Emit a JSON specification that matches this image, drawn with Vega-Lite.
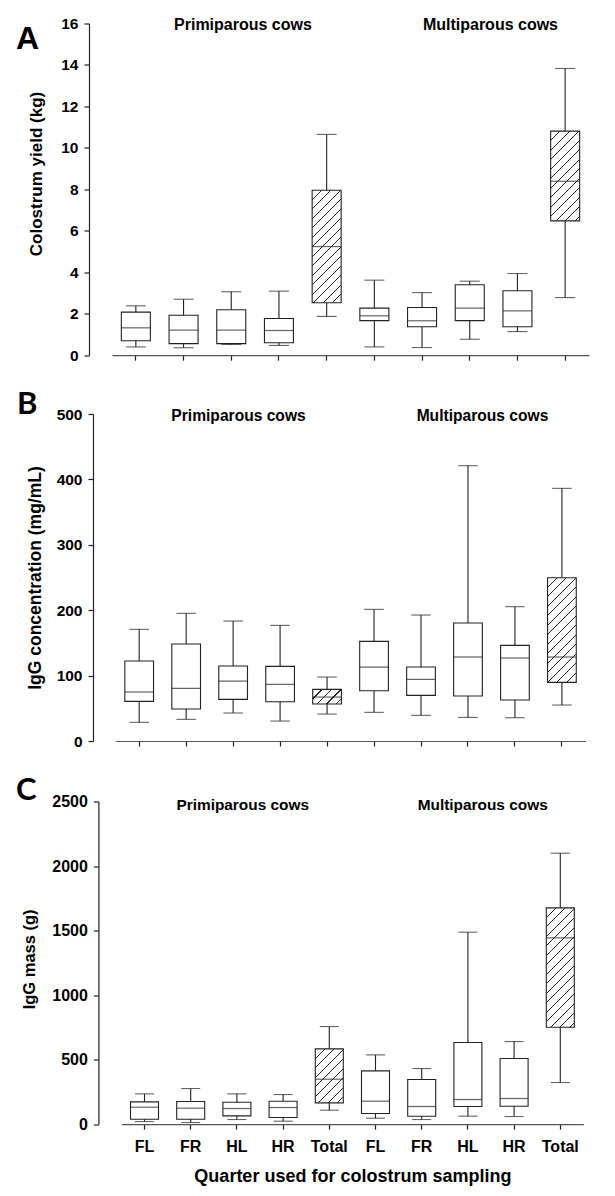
{
  "$schema": "https://vega.github.io/schema/vega-lite/v6.json",
  "padding": {"left": 16, "top": 16.5, "right": 5, "bottom": 5},
  "spacing": 24.5,
  "config": {
    "view": {"stroke": null},
    "axis": {"labelFont": "Liberation Sans", "labelFontWeight": "bold", "labelColor": "black", "titleFont": "Liberation Sans", "titleFontWeight": "bold", "titleColor": "black", "domainColor": "#222", "tickColor": "#222", "grid": false, "tickSize": 5, "domainWidth": 1.2, "tickWidth": 1.2}
  },
  "datasets": {
    "A": [
      {"cat": "P FL", "lo": 0.40, "q1": 0.70, "med": 1.32, "q3": 2.08, "hi": 2.38},
      {"cat": "P FR", "lo": 0.36, "q1": 0.56, "med": 1.21, "q3": 1.93, "hi": 2.70},
      {"cat": "P HL", "lo": 0.52, "q1": 0.56, "med": 1.21, "q3": 2.19, "hi": 3.06},
      {"cat": "P HR", "lo": 0.47, "q1": 0.60, "med": 1.19, "q3": 1.77, "hi": 3.09},
      {"cat": "P Total", "lo": 1.87, "q1": 2.53, "med": 5.24, "q3": 7.96, "hi": 10.65},
      {"cat": "M FL", "lo": 0.40, "q1": 1.67, "med": 1.90, "q3": 2.27, "hi": 3.62},
      {"cat": "M FR", "lo": 0.37, "q1": 1.37, "med": 1.66, "q3": 2.30, "hi": 3.02},
      {"cat": "M HL", "lo": 0.77, "q1": 1.67, "med": 2.27, "q3": 3.40, "hi": 3.57},
      {"cat": "M HR", "lo": 1.14, "q1": 1.37, "med": 2.14, "q3": 3.11, "hi": 3.94},
      {"cat": "M Total", "lo": 2.78, "q1": 6.48, "med": 8.39, "q3": 10.81, "hi": 13.83}
    ],
    "B": [
      {"cat": "P FL", "lo": 28.5, "q1": 60.6, "med": 74.9, "q3": 122.3, "hi": 170.7},
      {"cat": "P FR", "lo": 33.1, "q1": 48.9, "med": 80.5, "q3": 148.3, "hi": 195.2},
      {"cat": "P HL", "lo": 42.8, "q1": 63.7, "med": 91.7, "q3": 114.6, "hi": 183.4},
      {"cat": "P HR", "lo": 30.5, "q1": 60.1, "med": 86.6, "q3": 114.1, "hi": 176.8},
      {"cat": "P Total", "lo": 41.2, "q1": 56.5, "med": 67.2, "q3": 78.9, "hi": 97.8},
      {"cat": "M FL", "lo": 43.8, "q1": 76.9, "med": 113.1, "q3": 152.3, "hi": 201.3},
      {"cat": "M FR", "lo": 39.2, "q1": 69.8, "med": 94.2, "q3": 113.1, "hi": 192.6},
      {"cat": "M HL", "lo": 36.1, "q1": 68.8, "med": 128.4, "q3": 180.4, "hi": 421.0},
      {"cat": "M HR", "lo": 35.6, "q1": 62.6, "med": 126.9, "q3": 146.2, "hi": 205.4},
      {"cat": "M Total", "lo": 55.0, "q1": 89.6, "med": 128.4, "q3": 249.7, "hi": 386.3}
    ],
    "C": [
      {"cat": "P FL", "lo": 20.7, "q1": 38.7, "med": 131.7, "q3": 173.0, "hi": 235.0},
      {"cat": "P FR", "lo": 12.9, "q1": 38.7, "med": 124.0, "q3": 175.6, "hi": 276.3},
      {"cat": "P HL", "lo": 36.2, "q1": 64.6, "med": 121.4, "q3": 170.4, "hi": 235.0},
      {"cat": "P HR", "lo": 23.2, "q1": 51.6, "med": 129.1, "q3": 178.2, "hi": 229.8},
      {"cat": "P Total", "lo": 108.5, "q1": 165.3, "med": 348.6, "q3": 583.6, "hi": 756.6},
      {"cat": "M FL", "lo": 46.5, "q1": 82.6, "med": 178.2, "q3": 413.2, "hi": 537.1},
      {"cat": "M FR", "lo": 36.2, "q1": 62.0, "med": 136.9, "q3": 346.0, "hi": 431.3},
      {"cat": "M HL", "lo": 62.0, "q1": 136.9, "med": 191.1, "q3": 632.7, "hi": 1487.4},
      {"cat": "M HR", "lo": 59.4, "q1": 139.4, "med": 198.9, "q3": 508.7, "hi": 640.4},
      {"cat": "M Total", "lo": 322.8, "q1": 751.5, "med": 1443.5, "q3": 1676.0, "hi": 2099.5}
    ],
    "labels": [
      {"g": "P", "cat": "P HL", "label": "Primiparous cows"},
      {"g": "M", "cat": "M HL", "label": "Multiparous cows"}
    ]
  },
  "vconcat": [
    {
      "width": 477, "height": 331.7,
      "title": {"text": "A", "anchor": "start", "frame": "group", "dx": -96, "dy": 43, "fontSize": 32, "font": "Liberation Sans", "fontWeight": "bold", "color": "black"},
      "data": {"name": "A"},
      "layer": [
        {"mark": {"type": "rule", "color": "#222", "strokeWidth": 1.1},
         "encoding": {
           "x": {"field": "cat", "type": "nominal", "scale": {"domain": ["P FL","P FR","P HL","P HR","P Total","M FL","M FR","M HL","M HR","M Total"], "paddingInner": 0, "paddingOuter": 0}, "axis": {"title": null, "labels": false, "domainColor": "#555"}},
           "y": {"field": "lo", "type": "quantitative", "title": "Colostrum yield (kg)", "scale": {"domain": [0, 16], "nice": false}, "axis": {"values": [0,2,4,6,8,10,12,14,16], "format": "d", "offset": 23, "labelFontSize": 15.5, "labelPadding": 6, "titleFontSize": 17, "titleX": -52.8, "titleY": 150, "titleBaseline": "middle", "titleAlign": "center", "titleAngle": -90}},
           "y2": {"field": "hi"}}},
        {"mark": {"type": "tick", "size": 20, "thickness": 1.1, "color": "#222"},
         "encoding": {"x": {"field": "cat", "type": "nominal"}, "y": {"field": "lo", "type": "quantitative", "title": "Colostrum yield (kg)"}}},
        {"mark": {"type": "tick", "size": 20, "thickness": 1.1, "color": "#222"},
         "encoding": {"x": {"field": "cat", "type": "nominal"}, "y": {"field": "hi", "type": "quantitative", "title": "Colostrum yield (kg)"}}},
        {"mark": {"type": "bar", "size": 29, "stroke": "#222", "strokeWidth": 1.1},
         "encoding": {"x": {"field": "cat", "type": "nominal"}, "y": {"field": "q1", "type": "quantitative", "title": "Colostrum yield (kg)"}, "y2": {"field": "q3"},
           "fill": {"condition": [
             {"test": "datum.cat === 'P Total'", "value": {"gradient": "linear", "x1": 0, "y1": 0, "x2": 0.3037, "y2": 1.1793, "stops": [
               {"offset": 0, "color": "white"},
               {"offset": 0.0625, "color": "white"}, {"offset": 0.0625, "color": "#222"}, {"offset": 0.0717, "color": "#222"}, {"offset": 0.0717, "color": "white"},
               {"offset": 0.1296, "color": "white"}, {"offset": 0.1296, "color": "#222"}, {"offset": 0.1388, "color": "#222"}, {"offset": 0.1388, "color": "white"},
               {"offset": 0.1967, "color": "white"}, {"offset": 0.1967, "color": "#222"}, {"offset": 0.2059, "color": "#222"}, {"offset": 0.2059, "color": "white"},
               {"offset": 0.2638, "color": "white"}, {"offset": 0.2638, "color": "#222"}, {"offset": 0.2730, "color": "#222"}, {"offset": 0.2730, "color": "white"},
               {"offset": 0.3309, "color": "white"}, {"offset": 0.3309, "color": "#222"}, {"offset": 0.3401, "color": "#222"}, {"offset": 0.3401, "color": "white"},
               {"offset": 0.3979, "color": "white"}, {"offset": 0.3979, "color": "#222"}, {"offset": 0.4071, "color": "#222"}, {"offset": 0.4071, "color": "white"},
               {"offset": 0.4650, "color": "white"}, {"offset": 0.4650, "color": "#222"}, {"offset": 0.4742, "color": "#222"}, {"offset": 0.4742, "color": "white"},
               {"offset": 0.5321, "color": "white"}, {"offset": 0.5321, "color": "#222"}, {"offset": 0.5413, "color": "#222"}, {"offset": 0.5413, "color": "white"},
               {"offset": 0.5992, "color": "white"}, {"offset": 0.5992, "color": "#222"}, {"offset": 0.6084, "color": "#222"}, {"offset": 0.6084, "color": "white"},
               {"offset": 0.6663, "color": "white"}, {"offset": 0.6663, "color": "#222"}, {"offset": 0.6755, "color": "#222"}, {"offset": 0.6755, "color": "white"},
               {"offset": 0.7334, "color": "white"}, {"offset": 0.7334, "color": "#222"}, {"offset": 0.7426, "color": "#222"}, {"offset": 0.7426, "color": "white"},
               {"offset": 0.8005, "color": "white"}, {"offset": 0.8005, "color": "#222"}, {"offset": 0.8097, "color": "#222"}, {"offset": 0.8097, "color": "white"},
               {"offset": 0.8676, "color": "white"}, {"offset": 0.8676, "color": "#222"}, {"offset": 0.8768, "color": "#222"}, {"offset": 0.8768, "color": "white"},
               {"offset": 0.9347, "color": "white"}, {"offset": 0.9347, "color": "#222"}, {"offset": 0.9439, "color": "#222"}, {"offset": 0.9439, "color": "white"},
               {"offset": 1, "color": "white"}]}},
             {"test": "datum.cat === 'M Total'", "value": {"gradient": "linear", "x1": 0, "y1": 0, "x2": 0.3871, "y2": 1.198, "stops": [
               {"offset": 0, "color": "white"},
               {"offset": 0.0745, "color": "white"}, {"offset": 0.0745, "color": "#222"}, {"offset": 0.0855, "color": "#222"}, {"offset": 0.0855, "color": "white"},
               {"offset": 0.1545, "color": "white"}, {"offset": 0.1545, "color": "#222"}, {"offset": 0.1655, "color": "#222"}, {"offset": 0.1655, "color": "white"},
               {"offset": 0.2345, "color": "white"}, {"offset": 0.2345, "color": "#222"}, {"offset": 0.2455, "color": "#222"}, {"offset": 0.2455, "color": "white"},
               {"offset": 0.3145, "color": "white"}, {"offset": 0.3145, "color": "#222"}, {"offset": 0.3255, "color": "#222"}, {"offset": 0.3255, "color": "white"},
               {"offset": 0.3945, "color": "white"}, {"offset": 0.3945, "color": "#222"}, {"offset": 0.4055, "color": "#222"}, {"offset": 0.4055, "color": "white"},
               {"offset": 0.4745, "color": "white"}, {"offset": 0.4745, "color": "#222"}, {"offset": 0.4855, "color": "#222"}, {"offset": 0.4855, "color": "white"},
               {"offset": 0.5545, "color": "white"}, {"offset": 0.5545, "color": "#222"}, {"offset": 0.5655, "color": "#222"}, {"offset": 0.5655, "color": "white"},
               {"offset": 0.6345, "color": "white"}, {"offset": 0.6345, "color": "#222"}, {"offset": 0.6455, "color": "#222"}, {"offset": 0.6455, "color": "white"},
               {"offset": 0.7145, "color": "white"}, {"offset": 0.7145, "color": "#222"}, {"offset": 0.7255, "color": "#222"}, {"offset": 0.7255, "color": "white"},
               {"offset": 0.7945, "color": "white"}, {"offset": 0.7945, "color": "#222"}, {"offset": 0.8055, "color": "#222"}, {"offset": 0.8055, "color": "white"},
               {"offset": 0.8745, "color": "white"}, {"offset": 0.8745, "color": "#222"}, {"offset": 0.8855, "color": "#222"}, {"offset": 0.8855, "color": "white"},
               {"offset": 0.9545, "color": "white"}, {"offset": 0.9545, "color": "#222"}, {"offset": 0.9655, "color": "#222"}, {"offset": 0.9655, "color": "white"},
               {"offset": 1, "color": "white"}]}}
           ], "value": "white"}}},
        {"mark": {"type": "tick", "size": 29, "thickness": 1.2, "color": "#222"},
         "encoding": {"x": {"field": "cat", "type": "nominal"}, "y": {"field": "med", "type": "quantitative", "title": "Colostrum yield (kg)"}}},
        {"data": {"name": "labels"}, "transform": [{"filter": "datum.g === 'P'"}],
         "mark": {"type": "text", "font": "Liberation Sans", "fontWeight": "bold", "fontSize": 16, "dx": 11.7, "dy": 1, "baseline": "middle", "align": "center", "color": "black"},
         "encoding": {"x": {"field": "cat", "type": "nominal"}, "y": {"datum": 16, "type": "quantitative"}, "text": {"field": "label"}}},
        {"data": {"name": "labels"}, "transform": [{"filter": "datum.g === 'M'"}],
         "mark": {"type": "text", "font": "Liberation Sans", "fontWeight": "bold", "fontSize": 16, "dx": 20.7, "dy": 1, "baseline": "middle", "align": "center", "color": "black"},
         "encoding": {"x": {"field": "cat", "type": "nominal"}, "y": {"datum": 16, "type": "quantitative"}, "text": {"field": "label"}}}
      ]
    },
    {
      "width": 473.4, "height": 327,
      "title": {"text": "B", "anchor": "start", "frame": "group", "dx": -95, "dy": 18.2, "fontSize": 31, "font": "Lato", "fontWeight": "bold", "color": "black"},
      "data": {"name": "B"},
      "layer": [
        {"mark": {"type": "rule", "color": "#222", "strokeWidth": 1.1},
         "encoding": {
           "x": {"field": "cat", "type": "nominal", "scale": {"domain": ["P FL","P FR","P HL","P HR","P Total","M FL","M FR","M HL","M HR","M Total"], "range": [3.7, 473.4], "paddingInner": 0, "paddingOuter": 0}, "axis": {"title": null, "labels": false, "domainColor": "#555"}},
           "y": {"field": "lo", "type": "quantitative", "title": "IgG concentration (mg/mL)", "scale": {"domain": [0, 500], "nice": false}, "axis": {"values": [0,100,200,300,400,500], "format": "d", "offset": 19, "labelFontSize": 15.5, "labelPadding": 6, "titleFontSize": 17.5, "titleX": -57.9, "titleY": 163.5, "titleBaseline": "middle", "titleAlign": "center", "titleAngle": -90}},
           "y2": {"field": "hi"}}},
        {"mark": {"type": "tick", "size": 19.5, "thickness": 1.1, "color": "#222"},
         "encoding": {"x": {"field": "cat", "type": "nominal"}, "y": {"field": "lo", "type": "quantitative", "title": "IgG concentration (mg/mL)"}}},
        {"mark": {"type": "tick", "size": 19.5, "thickness": 1.1, "color": "#222"},
         "encoding": {"x": {"field": "cat", "type": "nominal"}, "y": {"field": "hi", "type": "quantitative", "title": "IgG concentration (mg/mL)"}}},
        {"mark": {"type": "bar", "size": 28.7, "stroke": "#222", "strokeWidth": 1.1},
         "encoding": {"x": {"field": "cat", "type": "nominal"}, "y": {"field": "q1", "type": "quantitative", "title": "IgG concentration (mg/mL)"}, "y2": {"field": "q3"},
           "fill": {"condition": [
             {"test": "datum.cat === 'P Total'", "value": {"gradient": "linear", "x1": 0, "y1": 0, "x2": 1.1982, "y2": 0.6117, "stops": [
               {"offset": 0, "color": "white"},
               {"offset": 0.2041, "color": "white"}, {"offset": 0.2041, "color": "#222"}, {"offset": 0.2341, "color": "#222"}, {"offset": 0.2341, "color": "white"},
               {"offset": 0.4233, "color": "white"}, {"offset": 0.4233, "color": "#222"}, {"offset": 0.4533, "color": "#222"}, {"offset": 0.4533, "color": "white"},
               {"offset": 0.6424, "color": "white"}, {"offset": 0.6424, "color": "#222"}, {"offset": 0.6724, "color": "#222"}, {"offset": 0.6724, "color": "white"},
               {"offset": 0.8616, "color": "white"}, {"offset": 0.8616, "color": "#222"}, {"offset": 0.8916, "color": "#222"}, {"offset": 0.8916, "color": "white"},
               {"offset": 1, "color": "white"}]}},
             {"test": "datum.cat === 'M Total'", "value": {"gradient": "linear", "x1": 0, "y1": 0, "x2": 0.3248, "y2": 1.1851, "stops": [
               {"offset": 0, "color": "white"},
               {"offset": 0.0663, "color": "white"}, {"offset": 0.0663, "color": "#222"}, {"offset": 0.0761, "color": "#222"}, {"offset": 0.0761, "color": "white"},
               {"offset": 0.1375, "color": "white"}, {"offset": 0.1375, "color": "#222"}, {"offset": 0.1473, "color": "#222"}, {"offset": 0.1473, "color": "white"},
               {"offset": 0.2087, "color": "white"}, {"offset": 0.2087, "color": "#222"}, {"offset": 0.2185, "color": "#222"}, {"offset": 0.2185, "color": "white"},
               {"offset": 0.2800, "color": "white"}, {"offset": 0.2800, "color": "#222"}, {"offset": 0.2898, "color": "#222"}, {"offset": 0.2898, "color": "white"},
               {"offset": 0.3512, "color": "white"}, {"offset": 0.3512, "color": "#222"}, {"offset": 0.3610, "color": "#222"}, {"offset": 0.3610, "color": "white"},
               {"offset": 0.4224, "color": "white"}, {"offset": 0.4224, "color": "#222"}, {"offset": 0.4322, "color": "#222"}, {"offset": 0.4322, "color": "white"},
               {"offset": 0.4936, "color": "white"}, {"offset": 0.4936, "color": "#222"}, {"offset": 0.5034, "color": "#222"}, {"offset": 0.5034, "color": "white"},
               {"offset": 0.5648, "color": "white"}, {"offset": 0.5648, "color": "#222"}, {"offset": 0.5746, "color": "#222"}, {"offset": 0.5746, "color": "white"},
               {"offset": 0.6360, "color": "white"}, {"offset": 0.6360, "color": "#222"}, {"offset": 0.6458, "color": "#222"}, {"offset": 0.6458, "color": "white"},
               {"offset": 0.7072, "color": "white"}, {"offset": 0.7072, "color": "#222"}, {"offset": 0.7170, "color": "#222"}, {"offset": 0.7170, "color": "white"},
               {"offset": 0.7785, "color": "white"}, {"offset": 0.7785, "color": "#222"}, {"offset": 0.7883, "color": "#222"}, {"offset": 0.7883, "color": "white"},
               {"offset": 0.8497, "color": "white"}, {"offset": 0.8497, "color": "#222"}, {"offset": 0.8595, "color": "#222"}, {"offset": 0.8595, "color": "white"},
               {"offset": 0.9209, "color": "white"}, {"offset": 0.9209, "color": "#222"}, {"offset": 0.9307, "color": "#222"}, {"offset": 0.9307, "color": "white"},
               {"offset": 1, "color": "white"}]}}
           ], "value": "white"}}},
        {"mark": {"type": "tick", "size": 28.7, "thickness": 1.2, "color": "#222"},
         "encoding": {"x": {"field": "cat", "type": "nominal"}, "y": {"field": "med", "type": "quantitative", "title": "IgG concentration (mg/mL)"}}},
        {"data": {"name": "labels"}, "transform": [{"filter": "datum.g === 'P'"}],
         "mark": {"type": "text", "font": "Liberation Sans", "fontWeight": "bold", "fontSize": 15.6, "dx": 5.4, "dy": 2, "baseline": "middle", "align": "center", "color": "black"},
         "encoding": {"x": {"field": "cat", "type": "nominal"}, "y": {"datum": 500, "type": "quantitative"}, "text": {"field": "label"}}},
        {"data": {"name": "labels"}, "transform": [{"filter": "datum.g === 'M'"}],
         "mark": {"type": "text", "font": "Liberation Sans", "fontWeight": "bold", "fontSize": 15.6, "dx": 14.5, "dy": 2, "baseline": "middle", "align": "center", "color": "black"},
         "encoding": {"x": {"field": "cat", "type": "nominal"}, "y": {"datum": 500, "type": "quantitative"}, "text": {"field": "label"}}}
      ]
    },
    {
      "width": 471.4, "height": 322.7,
      "title": {"text": "C", "anchor": "start", "frame": "group", "dx": -96, "dy": 17.2, "fontSize": 31, "font": "Lato", "fontWeight": "bold", "color": "black"},
      "data": {"name": "C"},
      "layer": [
        {"mark": {"type": "rule", "color": "#222", "strokeWidth": 1.1},
         "encoding": {
           "x": {"field": "cat", "type": "nominal", "scale": {"domain": ["P FL","P FR","P HL","P HR","P Total","M FL","M FR","M HL","M HR","M Total"], "range": [9.4, 471.4], "paddingInner": 0, "paddingOuter": 0}, "axis": {"title": "Quarter used for colostrum sampling", "labelExpr": "split(datum.label, ' ')[1]", "labelAngle": 0, "labelFontSize": 16, "labelPadding": 9, "titleFontSize": 18, "titlePadding": 13, "domainColor": "#555"}},
           "y": {"field": "lo", "type": "quantitative", "title": "IgG mass (g)", "scale": {"domain": [0, 2500], "nice": false}, "axis": {"values": [0,500,1000,1500,2000,2500], "format": "d", "offset": 13.6, "labelFontSize": 16, "labelPadding": 6, "titleFontSize": 16.5, "titleX": -68.7, "titleY": 157.4, "titleBaseline": "middle", "titleAlign": "center", "titleAngle": -90}},
           "y2": {"field": "hi"}}},
        {"mark": {"type": "tick", "size": 19, "thickness": 1.1, "color": "#222"},
         "encoding": {"x": {"field": "cat", "type": "nominal"}, "y": {"field": "lo", "type": "quantitative", "title": "IgG mass (g)"}}},
        {"mark": {"type": "tick", "size": 19, "thickness": 1.1, "color": "#222"},
         "encoding": {"x": {"field": "cat", "type": "nominal"}, "y": {"field": "hi", "type": "quantitative", "title": "IgG mass (g)"}}},
        {"mark": {"type": "bar", "size": 28, "stroke": "#222", "strokeWidth": 1.1},
         "encoding": {"x": {"field": "cat", "type": "nominal"}, "y": {"field": "q1", "type": "quantitative", "title": "IgG mass (g)"}, "y2": {"field": "q3"},
           "fill": {"condition": [
             {"test": "datum.cat === 'P Total'", "value": {"gradient": "linear", "x1": 0, "y1": 0, "x2": 0.6205, "y2": 1.1968, "stops": [
               {"offset": 0, "color": "white"},
               {"offset": 0.1080, "color": "white"}, {"offset": 0.1080, "color": "#222"}, {"offset": 0.1238, "color": "#222"}, {"offset": 0.1238, "color": "white"},
               {"offset": 0.2238, "color": "white"}, {"offset": 0.2238, "color": "#222"}, {"offset": 0.2396, "color": "#222"}, {"offset": 0.2396, "color": "white"},
               {"offset": 0.3397, "color": "white"}, {"offset": 0.3397, "color": "#222"}, {"offset": 0.3555, "color": "#222"}, {"offset": 0.3555, "color": "white"},
               {"offset": 0.4555, "color": "white"}, {"offset": 0.4555, "color": "#222"}, {"offset": 0.4713, "color": "#222"}, {"offset": 0.4713, "color": "white"},
               {"offset": 0.5714, "color": "white"}, {"offset": 0.5714, "color": "#222"}, {"offset": 0.5872, "color": "#222"}, {"offset": 0.5872, "color": "white"},
               {"offset": 0.6872, "color": "white"}, {"offset": 0.6872, "color": "#222"}, {"offset": 0.7030, "color": "#222"}, {"offset": 0.7030, "color": "white"},
               {"offset": 0.8031, "color": "white"}, {"offset": 0.8031, "color": "#222"}, {"offset": 0.8189, "color": "#222"}, {"offset": 0.8189, "color": "white"},
               {"offset": 0.9189, "color": "white"}, {"offset": 0.9189, "color": "#222"}, {"offset": 0.9347, "color": "#222"}, {"offset": 0.9347, "color": "white"},
               {"offset": 1, "color": "white"}]}},
             {"test": "datum.cat === 'M Total'", "value": {"gradient": "linear", "x1": 0, "y1": 0, "x2": 0.2746, "y2": 1.1702, "stops": [
               {"offset": 0, "color": "white"},
               {"offset": 0.0601, "color": "white"}, {"offset": 0.0601, "color": "#222"}, {"offset": 0.0689, "color": "#222"}, {"offset": 0.0689, "color": "white"},
               {"offset": 0.1246, "color": "white"}, {"offset": 0.1246, "color": "#222"}, {"offset": 0.1334, "color": "#222"}, {"offset": 0.1334, "color": "white"},
               {"offset": 0.1890, "color": "white"}, {"offset": 0.1890, "color": "#222"}, {"offset": 0.1978, "color": "#222"}, {"offset": 0.1978, "color": "white"},
               {"offset": 0.2535, "color": "white"}, {"offset": 0.2535, "color": "#222"}, {"offset": 0.2623, "color": "#222"}, {"offset": 0.2623, "color": "white"},
               {"offset": 0.3180, "color": "white"}, {"offset": 0.3180, "color": "#222"}, {"offset": 0.3268, "color": "#222"}, {"offset": 0.3268, "color": "white"},
               {"offset": 0.3825, "color": "white"}, {"offset": 0.3825, "color": "#222"}, {"offset": 0.3913, "color": "#222"}, {"offset": 0.3913, "color": "white"},
               {"offset": 0.4469, "color": "white"}, {"offset": 0.4469, "color": "#222"}, {"offset": 0.4557, "color": "#222"}, {"offset": 0.4557, "color": "white"},
               {"offset": 0.5114, "color": "white"}, {"offset": 0.5114, "color": "#222"}, {"offset": 0.5202, "color": "#222"}, {"offset": 0.5202, "color": "white"},
               {"offset": 0.5759, "color": "white"}, {"offset": 0.5759, "color": "#222"}, {"offset": 0.5847, "color": "#222"}, {"offset": 0.5847, "color": "white"},
               {"offset": 0.6404, "color": "white"}, {"offset": 0.6404, "color": "#222"}, {"offset": 0.6492, "color": "#222"}, {"offset": 0.6492, "color": "white"},
               {"offset": 0.7048, "color": "white"}, {"offset": 0.7048, "color": "#222"}, {"offset": 0.7136, "color": "#222"}, {"offset": 0.7136, "color": "white"},
               {"offset": 0.7693, "color": "white"}, {"offset": 0.7693, "color": "#222"}, {"offset": 0.7781, "color": "#222"}, {"offset": 0.7781, "color": "white"},
               {"offset": 0.8338, "color": "white"}, {"offset": 0.8338, "color": "#222"}, {"offset": 0.8426, "color": "#222"}, {"offset": 0.8426, "color": "white"},
               {"offset": 0.8983, "color": "white"}, {"offset": 0.8983, "color": "#222"}, {"offset": 0.9071, "color": "#222"}, {"offset": 0.9071, "color": "white"},
               {"offset": 0.9628, "color": "white"}, {"offset": 0.9628, "color": "#222"}, {"offset": 0.9716, "color": "#222"}, {"offset": 0.9716, "color": "white"},
               {"offset": 1, "color": "white"}]}}
           ], "value": "white"}}},
        {"mark": {"type": "tick", "size": 28, "thickness": 1.2, "color": "#222"},
         "encoding": {"x": {"field": "cat", "type": "nominal"}, "y": {"field": "med", "type": "quantitative", "title": "IgG mass (g)"}}},
        {"data": {"name": "labels"}, "transform": [{"filter": "datum.g === 'P'"}],
         "mark": {"type": "text", "font": "Liberation Sans", "fontWeight": "bold", "fontSize": 15.4, "dx": 5.8, "dy": 3, "baseline": "middle", "align": "center", "color": "black"},
         "encoding": {"x": {"field": "cat", "type": "nominal"}, "y": {"datum": 2500, "type": "quantitative"}, "text": {"field": "label"}}},
        {"data": {"name": "labels"}, "transform": [{"filter": "datum.g === 'M'"}],
         "mark": {"type": "text", "font": "Liberation Sans", "fontWeight": "bold", "fontSize": 15.4, "dx": 14.8, "dy": 3, "baseline": "middle", "align": "center", "color": "black"},
         "encoding": {"x": {"field": "cat", "type": "nominal"}, "y": {"datum": 2500, "type": "quantitative"}, "text": {"field": "label"}}}
      ]
    }
  ]
}
